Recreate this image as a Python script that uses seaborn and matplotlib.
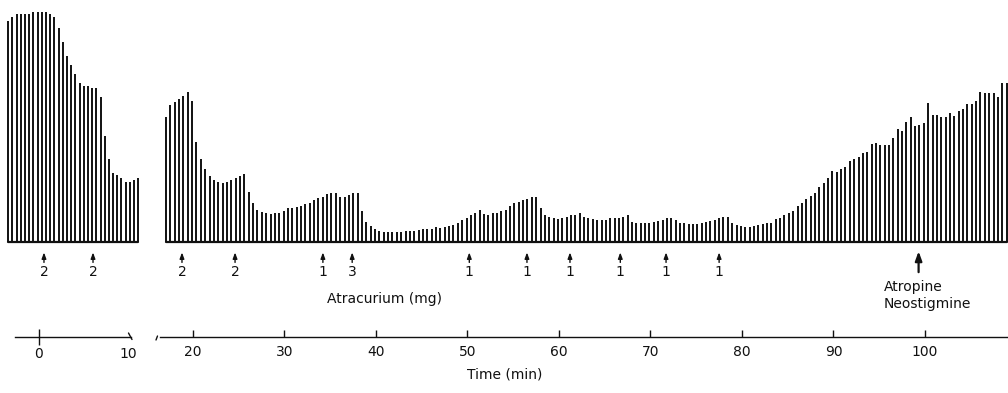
import numpy as np
import pandas as pd
import matplotlib
matplotlib.use('Agg')
import matplotlib.pyplot as plt
from matplotlib.lines import Line2D
import seaborn as sns

# -----------------------------------------
# Data: twitch height (% of control)
# -----------------------------------------
# stimulation grid (min) for the two recording segments
left_start, left_step = -3.45, 0.471
right_start, right_step = 17.05, 0.476

left_height = [96, 98, 99, 99, 99, 99, 100, 100, 100, 100, 99, 98, 93, 87, 81, 77,
               73, 69, 68, 68, 67, 67, 63, 46, 36, 30, 29, 28, 26, 26, 27, 28]

right_height = [
    54.2, 59.6, 60.9, 62.0, 63.5, 65.2, 61.3, 43.5, 36.1, 31.7, 28.7, 27.0, 26.1, 25.7,
    26.1, 27.0, 27.8, 28.7, 29.6, 21.7, 17.0, 13.9, 13.0, 12.6, 12.2, 12.6, 12.6, 13.5,
    14.8, 14.8, 15.2, 15.7, 16.5, 17.0,
    18.3, 19.1, 19.6, 20.9, 21.3, 21.3, 19.6, 19.6, 20.4, 21.3, 21.3, 13.5, 8.7, 7.0,
    5.7, 4.8, 4.3, 4.3, 4.3, 4.3, 4.3, 4.8, 4.8, 4.8, 5.2, 5.7, 5.7, 5.7, 6.5, 6.1,
    6.5, 7.0, 7.4,
    8.1, 9.6, 10.3, 11.7, 12.7, 13.9, 12.2, 11.7, 12.5, 12.7, 13.6, 13.9, 15.7, 17.1,
    17.5, 18.3, 18.6, 19.4, 19.7, 14.7, 11.7, 10.7, 10.3, 9.9, 10.3, 11.0, 11.7, 11.7,
    12.5, 11.0, 10.3,
    9.9, 9.6, 9.6, 9.6, 10.3, 10.3, 10.3, 11.0, 11.7, 8.8, 8.4, 8.4, 8.4, 8.4, 8.8,
    9.3, 9.6, 10.3, 10.3, 9.6, 8.4, 8.4, 7.8, 7.8, 7.8, 8.4, 8.8, 9.3, 9.6, 10.3,
    11.0, 11.0,
    8.4, 7.4, 7.1, 6.7, 6.4, 7.0, 7.4, 7.8, 8.1, 8.4, 9.9, 10.4, 11.7, 12.7, 13.6,
    15.7, 17.1, 18.6, 20.0, 21.4, 23.8, 25.8, 27.7, 31.0, 30.6, 31.6, 32.7, 35.3,
    36.0, 36.8, 38.8, 39.3,
    42.6, 42.9, 42.2, 42.2, 42.2, 45.1, 49.0, 48.4, 52.3, 54.2, 50.4, 50.9, 51.6,
    60.3, 55.2, 55.2, 54.5, 54.2, 56.2, 54.8, 57.1, 57.7, 60.0, 60.0, 61.4, 65.3,
    64.9, 64.7, 64.7, 62.9, 69.3, 69.3]

# atracurium doses (min, mg)
left_dose_time = [0.56, 6.07]
left_dose_mg = [2, 2]
right_dose_time = [18.8, 24.6, 34.2, 37.4, 50.2, 56.5, 61.2, 66.7, 71.7, 77.5]
right_dose_mg = [2, 2, 1, 3, 1, 1, 1, 1, 1, 1]
reversal_time = 99.3

left_ticks = [0, 10]
right_ticks = [20, 30, 40, 50, 60, 70, 80, 90, 100]

df_l = pd.DataFrame({'time': left_start + left_step * np.arange(len(left_height)),
                     'height': left_height})
df_r = pd.DataFrame({'time': right_start + right_step * np.arange(len(right_height)),
                     'height': right_height})

# -----------------------------------------
# Figure
# -----------------------------------------
sns.set_style('white')
plt.rcParams['font.family'] = ['DejaVu Sans']
ink = '#111111'

W, H = 1008, 393
fig = plt.figure(figsize=(W / 100, H / 100), dpi=100)


def panel(x0, x1):
    return fig.add_axes([x0 / W, (H - 242) / H, (x1 - x0) / W, 232 / H])


ax_l = panel(5, 140)
ax_r = panel(157, 1008)
ax_l.set_xlim(-3.82, 11.35)
ax_r.set_xlim(16.07, 109.07)

for ax, df, ticks, bounds in [(ax_l, df_l, left_ticks, (-2.7, 10.3)),
                              (ax_r, df_r, right_ticks, (16.45, 109.07))]:
    ax.vlines(df['time'], 0, df['height'], color=ink, lw=1.4)
    sns.lineplot(x=[df['time'].iloc[0], df['time'].iloc[-1]], y=[0, 0], ax=ax,
                 color=ink, lw=1.6, clip_on=False)
    ax.set_ylim(0, 232 / 2.3)
    ax.set_yticks([])
    ax.set_xticks(ticks)
    ax.tick_params(axis='x', bottom=True, direction='in', length=5, width=1, pad=6,
                   labelsize=10, colors=ink)
    for s in ['top', 'left', 'right']:
        ax.spines[s].set_visible(False)
    ax.spines['bottom'].set_position(('outward', 68.4))
    ax.spines['bottom'].set_bounds(*bounds)
    ax.spines['bottom'].set_linewidth(1)
    ax.spines['bottom'].set_color(ink)
    ax.set_xlabel('')
    ax.set_ylabel('')

# zero tick crosses the line, the 10 tick is hidden by the break mark
ax_l.tick_params(axis='x', direction='inout', length=11, pad=2)
ax_l.xaxis.get_major_ticks()[1].tick1line.set_visible(False)

# axis break marks
fig.add_artist(Line2D([128.5 / W, 132 / W], [1 - 333 / H, 1 - 339.5 / H], color=ink, lw=1))
fig.add_artist(Line2D([157.5 / W, 156 / W], [1 - 336 / H, 1 - 340 / H], color=ink, lw=1))


def dose_arrows(ax, times, doses):
    tr = ax.get_xaxis_transform()
    for t, d in zip(times, doses):
        ax.annotate('', xy=(t, -0.045), xytext=(t, -0.088), xycoords=tr,
                    arrowprops=dict(arrowstyle='-|>,head_length=0.35,head_width=0.13',
                                    color=ink, lw=1, shrinkA=0, shrinkB=0))
        ax.text(t, -0.13, str(d), transform=tr, ha='center', va='center',
                fontsize=10, color=ink)


dose_arrows(ax_l, left_dose_time, left_dose_mg)
dose_arrows(ax_r, right_dose_time, right_dose_mg)

tr = ax_r.get_xaxis_transform()
ax_r.annotate('', xy=(reversal_time, -0.04), xytext=(reversal_time, -0.13), xycoords=tr,
              arrowprops=dict(arrowstyle='-|>,head_length=0.55,head_width=0.2',
                              color=ink, lw=1.6, shrinkA=0, shrinkB=0))
ax_r.text(95.5, -0.194, 'Atropine', transform=tr, ha='left', va='center',
          fontsize=10, color=ink)
ax_r.text(95.5, -0.267, 'Neostigmine', transform=tr, ha='left', va='center',
          fontsize=10, color=ink)
ax_r.text(40.9, -0.246, 'Atracurium (mg)', transform=tr, ha='center', va='center',
          fontsize=10, color=ink)

fig.text(505 / W, 1 - 375 / H, 'Time (min)', ha='center', va='center',
         fontsize=10, color=ink)

fig.savefig('out.png', dpi=100)
